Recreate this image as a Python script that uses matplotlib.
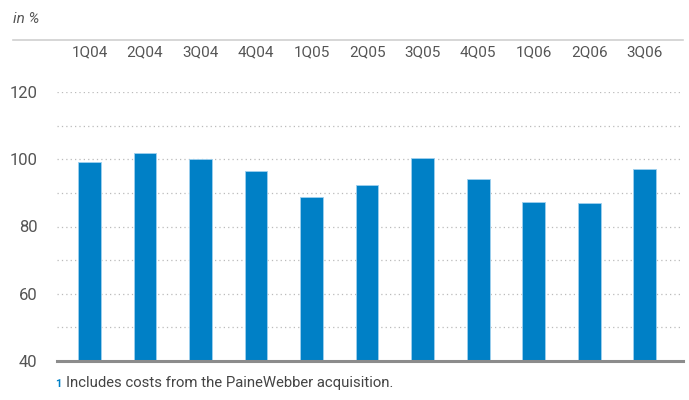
import matplotlib
matplotlib.use("Agg")
import matplotlib.pyplot as plt
import matplotlib.transforms as mtransforms
from matplotlib.lines import Line2D

plt.rcParams['font.family'] = ['Roboto', 'DejaVu Sans']

quarters = ['1Q04', '2Q04', '3Q04', '4Q04', '1Q05', '2Q05',
            '3Q05', '4Q05', '1Q06', '2Q06', '3Q06']
values = [99.2, 102.0, 100.1, 96.6, 88.8, 92.3, 100.5, 94.2, 87.4, 87.1, 97.1]
y_ticks = [40, 60, 80, 100, 120]
grid_levels = [50, 60, 70, 80, 90, 100, 110, 120]

blue = '#0080c6'
grey_txt = '#555555'

fig = plt.figure(figsize=(6.89, 4.00), dpi=100)
ax = fig.add_axes([57 / 689, 39 / 400, 626 / 689, 269 / 400])

x = list(range(len(quarters)))
ax.bar(x, values, width=0.41, color=blue, edgecolor='#9fd0ee', linewidth=0.6,
       bottom=0, zorder=3)

ax.set_xlim(-0.585, 10.69)
ax.set_ylim(40, 120)

for g in grid_levels:
    ax.axhline(g, color='#bbbbbb', linestyle=(0, (1, 2.5)), linewidth=0.9, zorder=1)
ax.axhline(40, color='#8c8c8c', linewidth=2.2, zorder=4, clip_on=False)

for s in ax.spines.values():
    s.set_visible(False)
ax.set_xticks([])
ax.set_yticks(y_ticks)
ax.set_yticklabels([str(t) for t in y_ticks], fontsize=12, color=grey_txt)
ax.tick_params(axis='y', length=0, pad=14)

# category labels above the plot
trans = mtransforms.blended_transform_factory(ax.transData, fig.transFigure)
for xi, q in zip(x, quarters):
    ax.text(xi, 1 - 52 / 400, q, transform=trans, ha='center', va='center',
            fontsize=11, color=grey_txt)

# top rule
fig.add_artist(Line2D([13 / 689, 683 / 689], [1 - 40 / 400, 1 - 40 / 400],
                      color='#d0d0d0', linewidth=1.2))

fig.text(13 / 689, 1 - 19 / 400, 'in %', fontsize=11, color=grey_txt,
         style='italic', va='center', ha='left')

fig.text(55 / 689, 1 - 384 / 400, '1', fontsize=8, color=blue, fontweight='bold',
         va='center', ha='left')
fig.text(66 / 689, 1 - 383 / 400, 'Includes costs from the PaineWebber acquisition.',
         fontsize=10.7, color='#444444', va='center', ha='left')

fig.savefig('out.png', dpi=100)
